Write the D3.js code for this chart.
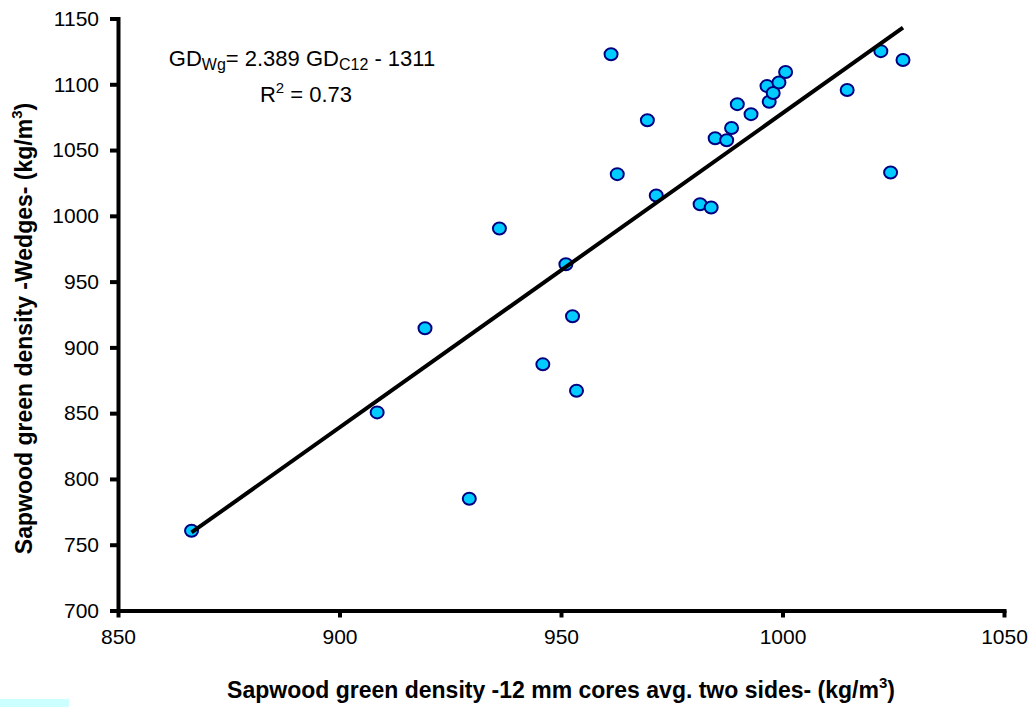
<!DOCTYPE html>
<html>
<head>
<meta charset="utf-8">
<script src="https://cdn.jsdelivr.net/npm/d3@7/dist/d3.min.js"></script>
<style>
  body { margin: 0; background: #fff; }
  svg text { font-family: "Liberation Sans", Arial, sans-serif; fill: #000; }
  .axis path, .axis line { stroke: #000; stroke-width: 4px; }
</style>
</head>
<body>
<div id="chart"></div>
<script>
var width = 1034;
var height = 707;

// core density (x) and wedge density (y), kg/m3
var coreDensity = [866.6, 908.5, 919.3, 929.3, 936.1, 945.9, 951.1, 952.6, 953.5,
  961.3, 962.7, 969.5, 971.5, 981.4, 983.9, 984.8, 987.4, 988.5, 989.8, 992.9,
  996.5, 997.0, 997.9, 999.2, 1000.7, 1014.6, 1022.2, 1024.4, 1027.2];
var wedgeDensity = [760.6, 850.6, 914.5, 785.0, 990.4, 887.1, 963.2, 923.6, 867.1,
  1122.9, 1031.7, 1072.7, 1015.5, 1008.8, 1006.3, 1059.0, 1057.5, 1066.7, 1084.9, 1077.3,
  1098.6, 1086.7, 1093.3, 1101.4, 1109.3, 1095.6, 1125.2, 1033.0, 1118.4];

var xTicks = [850, 900, 950, 1000, 1050];
var yTicks = [700, 750, 800, 850, 900, 950, 1000, 1050, 1100, 1150];

// fitted line GDWg = 2.389 GDC12 - 1311
var slope = 2.389;
var intercept = -1311;

var points = coreDensity.map(function(d, i) { return {x: d, y: wedgeDensity[i]}; });

var xScale = d3.scaleLinear().domain([850, 1050]).range([118, 1004]);
var yScale = d3.scaleLinear().domain([700, 1150]).range([610.5, 18.5]);

var svg = d3.select("#chart")
  .append("svg")
  .attr("width", width)
  .attr("height", height);

// stray light cyan strip bottom-left
svg.append("rect")
  .attr("x", 0).attr("y", 699)
  .attr("width", 69).attr("height", 8)
  .attr("fill", "#ccffff");

var xAxis = d3.axisBottom(xScale).tickValues(xTicks).tickFormat(d3.format("d"))
  .tickSize(7).tickSizeOuter(0).tickPadding(12);
var yAxis = d3.axisLeft(yScale).tickValues(yTicks).tickFormat(d3.format("d"))
  .tickSize(8).tickSizeOuter(0).tickPadding(11);

var gx = svg.append("g")
  .attr("class", "axis")
  .attr("transform", "translate(0," + yScale(700) + ")")
  .call(xAxis);

var gy = svg.append("g")
  .attr("class", "axis")
  .attr("transform", "translate(" + xScale(850) + ",0)")
  .call(yAxis);

[gx, gy].forEach(function(g) {
  g.selectAll("path, line").attr("stroke", "#000").attr("stroke-width", 4);
  g.select(".domain").attr("stroke-linecap", "square");
  g.selectAll("text").style("font-size", "21px").style("font-family", "Liberation Sans, Arial, sans-serif");
});

// points
svg.append("g")
  .selectAll("ellipse")
  .data(points)
  .enter()
  .append("ellipse")
  .attr("cx", function(d) { return xScale(d.x); })
  .attr("cy", function(d) { return yScale(d.y); })
  .attr("rx", 6.5)
  .attr("ry", 6)
  .attr("fill", "#00ccff")
  .attr("stroke", "#000080")
  .attr("stroke-width", 2);

// trend line over the data range
var xExt = d3.extent(coreDensity);
svg.append("line")
  .attr("x1", xScale(xExt[0]))
  .attr("y1", yScale(slope * xExt[0] + intercept))
  .attr("x2", xScale(xExt[1]))
  .attr("y2", yScale(slope * xExt[1] + intercept))
  .attr("stroke", "#000")
  .attr("stroke-width", 4);

// equation
var eq = svg.append("text")
  .attr("x", 302)
  .attr("y", 66)
  .attr("text-anchor", "middle")
  .style("font-size", "22px");
eq.append("tspan").text("GD");
eq.append("tspan").attr("dy", 4).style("font-size", "16px").text("Wg");
eq.append("tspan").attr("dy", -4).text("= 2.389 GD");
eq.append("tspan").attr("dy", 4).style("font-size", "16px").text("C12");
eq.append("tspan").attr("dy", -4).text(" - 1311");

var r2 = svg.append("text")
  .attr("x", 306)
  .attr("y", 102)
  .attr("text-anchor", "middle")
  .style("font-size", "22px");
r2.append("tspan").text("R");
r2.append("tspan").attr("dy", -9).style("font-size", "15px").text("2");
r2.append("tspan").attr("dy", 9).text(" = 0.73");

// axis titles
var xt = svg.append("text")
  .attr("x", (xScale(850) + xScale(1050)) / 2)
  .attr("y", 698)
  .attr("text-anchor", "middle")
  .style("font-size", "23px")
  .style("font-weight", "bold");
xt.append("tspan").text("Sapwood green density -12 mm cores avg. two sides- (kg/m");
xt.append("tspan").attr("dy", -10).style("font-size", "15px").text("3");
xt.append("tspan").attr("dy", 10).text(")");

var yt = svg.append("text")
  .attr("transform", "translate(32," + ((yScale(700) + yScale(1150)) / 2 + 14) + ") rotate(-90)")
  .attr("text-anchor", "middle")
  .style("font-size", "23px")
  .style("font-weight", "bold");
yt.append("tspan").text("Sapwood green density -Wedges- (kg/m");
yt.append("tspan").attr("dy", -10).style("font-size", "15px").text("3");
yt.append("tspan").attr("dy", 10).text(")");
</script>
</body>
</html>
